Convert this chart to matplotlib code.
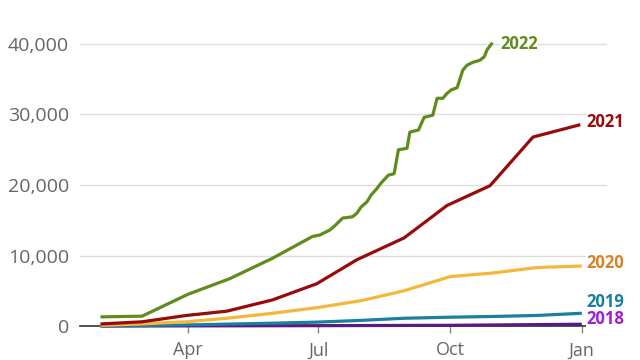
import matplotlib
matplotlib.use('Agg')
import matplotlib.pyplot as plt

# day of year (0 = 1 Jan) and cumulative count for each year
days_2022 = [30, 58, 90, 119, 149, 177, 182, 189, 193, 198, 205, 208, 211,
             215, 218, 222, 225, 230, 234, 237, 243, 245, 251, 255, 261, 264,
             268, 271, 274, 278, 282, 285, 289, 294, 297, 299, 302]
vals_2022 = [1300, 1400, 4500, 6700, 9600, 12700, 12900, 13600, 14300, 15300,
             15500, 16000, 16900, 17600, 18600, 19500, 20300, 21400, 21600,
             25000, 25200, 27500, 27800, 29600, 29900, 32300, 32300, 33000,
             33500, 33800, 36300, 37000, 37400, 37700, 38200, 39200, 40000]

days_2021 = [30, 58, 89, 117, 149, 180, 208, 241, 271, 301, 331, 363]
vals_2021 = [300, 600, 1500, 2100, 3700, 6000, 9400, 12500, 17100, 19900, 26800, 28500]

days_2020 = [30, 58, 89, 117, 149, 180, 211, 241, 273, 302, 334, 364]
vals_2020 = [100, 300, 600, 1100, 1800, 2600, 3600, 5000, 7000, 7500, 8300, 8500]

days_2019 = [30, 89, 149, 180, 211, 241, 273, 302, 334, 364]
vals_2019 = [0, 150, 400, 550, 800, 1100, 1250, 1350, 1500, 1800]

days_2018 = [30, 180, 273, 364]
vals_2018 = [0, 50, 100, 250]

month_ticks = [90, 181, 273, 365]
month_labels = ['Apr', 'Jul', 'Oct', 'Jan']
y_ticks = [0, 10000, 20000, 30000, 40000]

plt.rcParams['font.family'] = ['Open Sans', 'DejaVu Sans']

fig = plt.figure(figsize=(6.4, 3.6), dpi=100)
ax = fig.add_axes([0.125, 0.0944, 0.823, 0.8226])

series = [
    (days_2018, vals_2018, '#5b1a80', '2018', '#a020d0', 1050),
    (days_2019, vals_2019, '#1a7fa0', '2019', '#1a7fa0', 3450),
    (days_2020, vals_2020, '#f4b73a', '2020', '#d9822b', 8900),
    (days_2021, vals_2021, '#990a0a', '2021', '#990a0a', 28900),
    (days_2022, vals_2022, '#5f8c1c', '2022', '#5f8c1c', 40000),
]

for d, v, col, name, lcol, ly in series:
    ax.plot(d, v, color=col, lw=2.3, clip_on=False, zorder=3,
            solid_joinstyle='round')
    lx = 308 if name == '2022' else 368.5
    ax.text(lx, ly, name, color=lcol, fontsize=12, fontweight='bold',
            va='center', ha='left', zorder=4,
            bbox=dict(facecolor='white', edgecolor='none', pad=0.2))

ax.set_xlim(14.6, 382.5)
ax.set_ylim(0, 42000)

ax.set_yticks(y_ticks)
ax.set_yticklabels([f'{t:,}' for t in y_ticks])
ax.set_xticks(month_ticks)
ax.set_xticklabels(month_labels)

ax.grid(axis='y', color='#dddddd', lw=1)
ax.set_axisbelow(True)

for s in ['top', 'right', 'left']:
    ax.spines[s].set_visible(False)
ax.spines['bottom'].set_color('#333333')
ax.spines['bottom'].set_linewidth(1.2)
ax.spines['bottom'].set_zorder(2)

ax.tick_params(axis='y', length=0, pad=8, labelsize=14, labelcolor='#666666')
ax.tick_params(axis='x', length=5, width=1, color='#888888', pad=6,
               labelsize=13, labelcolor='#666666')

fig.savefig('out.png', dpi=100)
